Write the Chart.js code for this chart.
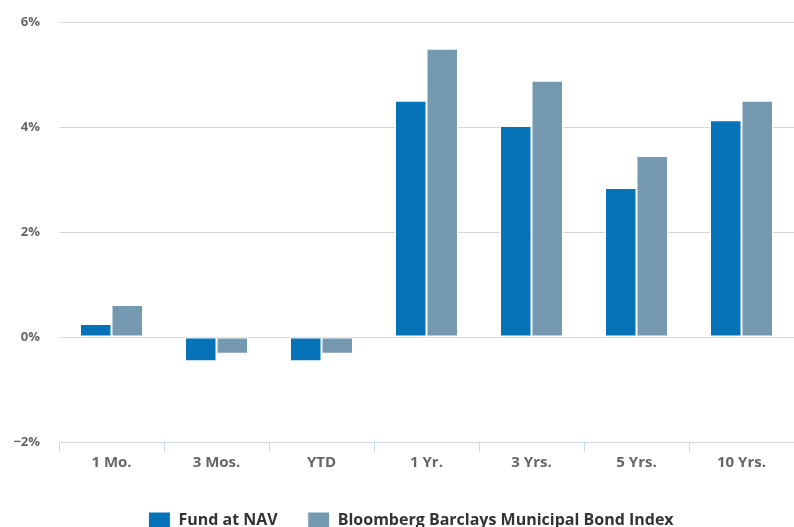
<!DOCTYPE html>
<html>
<head>
<meta charset="utf-8">
<script src="https://cdn.jsdelivr.net/npm/chart.js@4.4.1/dist/chart.umd.min.js"></script>
<style>
  html, body { margin: 0; padding: 0; background: #fff; overflow: hidden; }
  #wrap { width: 794px; height: 527px; overflow: hidden; }
</style>
</head>
<body>
<div id="wrap"><canvas id="perfChart" width="794" height="539"></canvas></div>
<script>
const categories = ["1 Mo.", "3 Mos.", "YTD", "1 Yr.", "3 Yrs.", "5 Yrs.", "10 Yrs."];
const fundValues = [0.25, -0.46, -0.46, 4.50, 4.02, 2.84, 4.13];
const indexValues = [0.61, -0.32, -0.32, 5.49, 4.88, 3.45, 4.50];
const seriesNames = ["Fund at NAV", "Bloomberg Barclays Municipal Bond Index"];
const yTicks = [-2, 0, 2, 4, 6];

const fontFamily = "'Open Sans', 'Liberation Sans', sans-serif";

// nudge the legend a little to the right, like the original
const legendShift = {
  id: "legendShift",
  afterLayout: function (chart) {
    if (chart.legend) {
      chart.legend.left += 14;
      chart.legend.right += 14;
    }
  },
};

const ctx = document.getElementById("perfChart").getContext("2d");
const myChart = new Chart(ctx, {
  type: "bar",
  data: {
    labels: categories,
    datasets: [
      {
        label: seriesNames[0],
        data: fundValues,
        backgroundColor: "#0673b8",
        borderColor: "#ffffff",
        borderWidth: 1,
        borderSkipped: false,
        categoryPercentage: 0.6,
        barPercentage: 1.0,
      },
      {
        label: seriesNames[1],
        data: indexValues,
        backgroundColor: "#7499b0",
        borderColor: "#ffffff",
        borderWidth: 1,
        borderSkipped: false,
        categoryPercentage: 0.6,
        barPercentage: 1.0,
      },
    ],
  },
  plugins: [legendShift],
  options: {
    responsive: false,
    animation: false,
    layout: { padding: { top: 22, right: 0, left: 0, bottom: 0 } },
    plugins: {
      tooltip: { enabled: false },
      legend: {
        position: "bottom",
        labels: {
          boxWidth: 22,
          boxHeight: 17,
          padding: 30,
          color: "#333333",
          font: { family: fontFamily, size: 16, weight: "bold" },
        },
      },
    },
    scales: {
      x: {
        offset: true,
        grid: {
          offset: true,
          drawOnChartArea: false,
          drawTicks: true,
          tickLength: 10,
          color: "#ccd6eb",
        },
        border: { display: true, color: "#ccd6eb", width: 1 },
        ticks: {
          color: "#666666",
          padding: 2,
          font: { family: fontFamily, size: 15, weight: "bold" },
        },
        afterFit: function (scale) {
          scale.height = 40;
        },
      },
      y: {
        min: -2,
        max: 6,
        afterBuildTicks: function (scale) {
          scale.ticks = yTicks.map((v) => ({ value: v }));
        },
        grid: { color: "#d8d8d8", drawTicks: false },
        border: { display: false },
        ticks: {
          color: "#666666",
          padding: 19,
          font: { family: fontFamily, size: 13, weight: "bold" },
          callback: function (v) {
            return (v < 0 ? "\u2212" + Math.abs(v) : v) + "%";
          },
        },
        afterFit: function (scale) {
          scale.width = 59;
          scale.paddingTop = 0;
          scale.paddingBottom = 0;
        },
      },
    },
  },
});
</script>
</body>
</html>
